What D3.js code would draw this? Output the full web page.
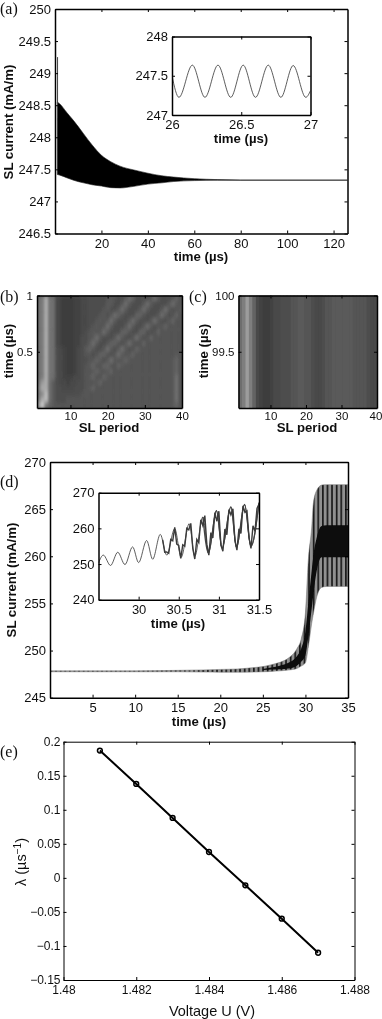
<!DOCTYPE html>
<meta charset="utf-8">
<style>
html, body { margin: 0; background: #fff; }
svg { display: block; }
text { font-family: "Liberation Sans", sans-serif; fill: #111; }
.frame path, .frame line { fill: none; stroke: #000; stroke-width: 1; shape-rendering: auto; }
.frame .domain { stroke-width: 1.5; }
.thin .domain { stroke-width: 1; }
.label { font-weight: bold; font-size: 13.2px; text-anchor: middle; }
.panel { font-family: "Liberation Serif", serif; font-size: 16px; }
</style>
<body>
<script src="https://cdn.jsdelivr.net/npm/d3@7/dist/d3.min.js"></script>
<script>

// (a) envelope of the fast oscillation
var aTime  = [1, 2.1, 5, 8, 12.2, 16, 20, 24, 28, 34, 40, 46, 51, 60, 70, 80, 100, 126];
var aUpper = [248.55, 248.52, 248.39, 248.26, 248.06, 247.88, 247.72, 247.62, 247.55, 247.49, 247.44, 247.40, 247.38, 247.355, 247.34, 247.335, 247.335, 247.335];
var aLower = [247.42, 247.41, 247.37, 247.33, 247.29, 247.26, 247.24, 247.215, 247.21, 247.235, 247.27, 247.29, 247.31, 247.325, 247.33, 247.33, 247.33, 247.33];
var aSpikeTime = [1.1, 1.1];
var aSpikeValue = [248.3, 249.25];

// (a) inset, turning points of the oscillation
var aInsetTime  = [26, 26.05, 26.147, 26.238, 26.332, 26.424, 26.514, 26.603, 26.695, 26.786, 26.875, 26.966, 27];
var aInsetValue = [247.5, 247.225, 247.635, 247.225, 247.635, 247.225, 247.635, 247.225, 247.635, 247.225, 247.63, 247.225, 247.31];

// (b) grey level per cell (hex digit), rows from t=1 down to t=0, columns SL period 1..40
var bRows = [
  "79c87 21000 11 22333 33454 33576 33335 75333 464",
  "79c87 21000 11 22333 33553 35753 33575 33335 754",
  "79c87 21000 11 22333 34533 57533 35753 33575 345",
  "79c87 21000 11 22333 45357 64333 66433 35753 464",
  "79c87 21000 11 22334 54575 33357 53335 75335 644",
  "79c87 21000 11 22345 45753 33575 33575 34564 444",
  "79c87 21000 11 23454 57533 36643 36633 46444 444",
  "79c87 21000 11 33457 53335 75335 75346 44444 444",
  "79c87 21000 11 33575 33466 43575 34644 44444 444",
  "79c87 32100 12 35653 35753 57534 65444 44444 444",
  "79c87 32100 12 34434 66435 75456 44444 44444 454",
  "79c87 32100 12 33456 53575 45654 44444 44444 564",
  "79c87 32100 12 34564 46644 65444 44444 44444 564",
  "79c87 32100 12 34456 54564 44444 44444 44444 564",
  "79c87 32111 22 34564 46544 44444 44444 44444 574",
  "8bc75 32212 23 34445 64444 44444 44444 44444 574",
  "9cc75 33222 33 34564 44444 44444 44444 44444 574",
  "8ad75 33333 33 45444 44444 44444 44444 44444 574",
  "9cd75 33344 44 44444 44444 44444 44444 44444 574",
  "be865 44444 44 44444 44444 44444 44444 44444 564"
];

// (c) same levels, the profile no longer changes in time
var cProfile = "79b96 21001 22 33344 55443 22344 55555 54444 322";

// (d) envelopes
var dTime  = [0, 10, 15, 18, 20, 22, 24, 25, 26, 27, 28, 29, 29.5, 30, 30.34, 30.74, 30.93, 31.33, 31.9, 32.5, 35];
var dUpper = [247.85, 247.85, 247.9, 247.95, 248, 248.05, 248.2, 248.3, 248.5, 248.75, 249.2, 250.2, 251.2, 254, 259.6, 263.1, 265.6, 267, 267.55, 267.6, 267.6];
var dLower = [247.75, 247.75, 247.75, 247.72, 247.7, 247.7, 247.72, 247.75, 247.78, 247.85, 247.93, 248.1, 248.35, 248.7, 250.4, 252.9, 253.9, 255.7, 256.7, 256.8, 256.8];
var dCoreTime  = [25, 26, 27, 28, 29, 29.5, 30, 30.34, 30.74, 31, 31.33, 31.9, 32.5, 35];
var dCoreUpper = [248.05, 248.2, 248.4, 248.7, 249.4, 250.2, 252, 255, 258.5, 260.5, 262, 263.2, 263.3, 263.3];
var dCoreLower = [247.95, 247.98, 248.02, 248.1, 248.4, 248.8, 249.5, 251.5, 254.5, 256.5, 258.5, 259.9, 259.9, 259.9];

// (d) inset, turning points of the slow swing
var dInsetTime  = [29.5, 29.56, 29.65, 29.74, 29.83, 29.925, 30, 30.1, 30.175, 30.27, 30.35, 30.45, 30.53, 30.63, 30.7, 30.8, 30.87, 30.97, 31.04, 31.15, 31.22, 31.32, 31.4, 31.5];
var dInsetValue = [250.3, 252.5, 249.6, 253.3, 249.85, 254.8, 250.4, 256.6, 251.35, 258.3, 252.5, 259.9, 251.9, 261.3, 252.2, 263.2, 253.1, 265, 254.5, 266, 254.7, 266.7, 255, 267.2];

// (d) inset, the ripple riding on it from about 30.3 on
var dRippleTime  = [30.3, 30.325, 30.35, 30.375, 30.4, 30.425, 30.45, 30.475, 30.5, 30.525, 30.55, 30.575, 30.6, 30.625, 30.65, 30.675, 30.7, 30.725, 30.75, 30.775, 30.8, 30.825, 30.85, 30.875, 30.9, 30.925, 30.95, 30.975, 31, 31.025, 31.05, 31.075, 31.1, 31.125, 31.15, 31.175, 31.2, 31.225, 31.25, 31.275, 31.3, 31.325, 31.35, 31.375, 31.4, 31.425, 31.45, 31.475, 31.5];
var dRippleValue = [256.8, 253.3, 253.4, 253, 256.9, 256.5, 260.3, 255.6, 255.2, 251.6, 255.4, 255, 260, 259.6, 261.4, 254.4, 251.4, 256.9, 256, 262.4, 260.8, 263.6, 255.5, 252.5, 258.8, 257.3, 264.4, 262, 264.8, 255.3, 253.6, 259.8, 258.2, 265.3, 263.8, 265.5, 256.6, 253.9, 259.9, 258.6, 266.3, 264.5, 264.9, 257.4, 254.4, 260.7, 259.2, 265.6, 266.8];

// (e)
var eVoltage = [1.481, 1.482, 1.483, 1.484, 1.485, 1.486, 1.487];
var eLambda  = [0.187, 0.138, 0.088, 0.038, -0.011, -0.06, -0.11];
var eXTicks = [1.48, 1.482, 1.484, 1.486, 1.488];
var eYTicks = [-0.15, -0.1, -0.05, 0, 0.05, 0.1, 0.15, 0.2];

var greys = ["#3c3c3c", "#424242", "#484848", "#4e4e4e", "#545454", "#5a5a5a", "#646464", "#6e6e6e",
             "#747474", "#7e7e7e", "#8c8c8c", "#9c9c9c", "#acacac", "#bcbcbc", "#cccccc", "#dcdcdc"];

var svg = d3.select("body").append("svg")
    .attr("width", 382)
    .attr("height", 1019)
    .style("filter", "url(#soft)");

var defs = svg.append("defs");
defs.append("filter").attr("id", "soft").attr("x", 0).attr("y", 0).attr("width", 1).attr("height", 1)
    .append("feGaussianBlur").attr("stdDeviation", 0.35);
defs.append("filter").attr("id", "cellblur")
    .append("feGaussianBlur").attr("stdDeviation", "0.8 1.9");
defs.append("filter").attr("id", "cellblur2")
    .append("feGaussianBlur").attr("stdDeviation", 0.5);
var stripes = defs.append("pattern").attr("id", "stripes")
    .attr("patternUnits", "userSpaceOnUse").attr("width", 4.6).attr("height", 10);
stripes.append("rect").attr("width", 4.6).attr("height", 10).attr("fill", "#909090");
stripes.append("rect").attr("width", 1.7).attr("height", 10).attr("fill", "#1a1a1a");

svg.append("rect").attr("width", 382).attr("height", 1019).attr("fill", "#fff");

var clipCount = 0;

function frame(box, xDomain, yDomain, xTicks, yTicks, fontSize, thin, fmtY) {
  var x = d3.scaleLinear().domain(xDomain).range([box.left, box.right]);
  var y = d3.scaleLinear().domain(yDomain).range([box.bottom, box.top]);
  var id = "clip" + (clipCount++);
  svg.append("clipPath").attr("id", id).append("rect")
      .attr("x", box.left).attr("y", box.top)
      .attr("width", box.right - box.left).attr("height", box.bottom - box.top);
  var plot = svg.append("g").attr("clip-path", "url(#" + id + ")");

  var axes = svg.append("g").attr("class", thin ? "frame thin" : "frame");
  var fmt = fmtY || String;
  axes.append("g").attr("class", "bottom").attr("transform", "translate(0," + box.bottom + ")")
      .call(d3.axisBottom(x).tickValues(xTicks).tickSizeInner(-3).tickSizeOuter(0).tickPadding(box.padX || 5).tickFormat(String));
  axes.append("g").attr("transform", "translate(" + box.left + ",0)")
      .call(d3.axisLeft(y).tickValues(yTicks).tickSizeInner(-3).tickSizeOuter(0).tickPadding(box.padY || 4).tickFormat(fmt));
  axes.append("g").attr("transform", "translate(0," + box.top + ")")
      .call(d3.axisTop(x).tickValues(xTicks).tickSizeInner(-3).tickSizeOuter(0).tickFormat(""));
  axes.append("g").attr("transform", "translate(" + box.right + ",0)")
      .call(d3.axisRight(y).tickValues(yTicks).tickSizeInner(-3).tickSizeOuter(0).tickFormat(""));
  axes.selectAll("text").style("font-family", '"Liberation Sans", sans-serif')
      .style("font-size", fontSize + "px").style("fill", "#111");
  return {x: x, y: y, plot: plot, axes: axes};
}

function xLabel(text, cx, base) {
  svg.append("text").attr("class", "label").attr("x", cx).attr("y", base).text(text);
}
function yLabel(text, cx, cy) {
  svg.append("text").attr("class", "label")
      .attr("transform", "translate(" + cx + "," + cy + ") rotate(-90)").text(text);
}
function panelTag(text, px, py) {
  svg.append("text").attr("class", "panel").attr("x", px).attr("y", py).text(text);
}

function band(chart, times, upper, lower, fill) {
  var area = d3.area()
      .x(function(d, i) { return chart.x(times[i]); })
      .y0(function(d, i) { return chart.y(lower[i]); })
      .y1(function(d, i) { return chart.y(upper[i]); })
      .curve(d3.curveMonotoneX);
  return chart.plot.append("path").attr("d", area(times)).attr("fill", fill);
}

function trace(chart, times, values, width, colour, curve) {
  var line = d3.line()
      .x(function(d, i) { return chart.x(times[i]); })
      .y(function(d, i) { return chart.y(values[i]); })
      .curve(curve || d3.curveMonotoneX);
  return chart.plot.append("path").attr("d", line(times))
      .attr("fill", "none").attr("stroke", colour).attr("stroke-width", width);
}

// ---- panel a
var a = frame({left: 55, right: 347.5, top: 9, bottom: 233.5}, [0, 126], [246.5, 250],
    [20, 40, 60, 80, 100, 120], [246.5, 247, 247.5, 248, 248.5, 249, 249.5, 250], 13);
band(a, aTime, aUpper, aLower, "#000").attr("stroke", "#222").attr("stroke-width", 0.6);
trace(a, aSpikeTime, aSpikeValue, 1, "#444");
xLabel("time (µs)", 201, 261);
yLabel("SL current (mA/m)", 13, 122);
panelTag("(a)", 0, 14);

var aIn = frame({left: 172, right: 310.5, top: 36.5, bottom: 115}, [26, 27], [247, 248],
    [26, 26.5, 27], [247, 247.5, 248], 13);
trace(aIn, aInsetTime, aInsetValue, 0.8, "#333");
xLabel("time (µs)", 241, 143);

// ---- panels b, c
var cols = d3.range(1, 41);

function heat(box, rows, yDomain, yTicks, blur) {
  var chart = frame(box, [1, 40], yDomain, [10, 20, 30, 40], yTicks, 11.5, false);
  var colScale = d3.scaleBand().domain(cols).range([box.left, box.right]);
  var rowScale = d3.scaleBand().domain(d3.range(rows.length)).range([box.top, box.bottom]);
  var shade = d3.scaleOrdinal().domain(d3.range(16)).range(greys);
  chart.plot.append("rect").attr("x", box.left).attr("y", box.top)
      .attr("width", box.right - box.left).attr("height", box.bottom - box.top).attr("fill", "#505050");
  var cells = chart.plot.append("g").attr("filter", "url(#" + blur + ")");
  rows.forEach(function(row, r) {
    var levels = row.replace(/ /g, "").split("");
    cells.selectAll(null).data(levels).enter().append("rect")
        .attr("x", function(d, i) { return colScale(cols[i]); })
        .attr("y", rowScale(r))
        .attr("width", colScale.bandwidth() + 0.5)
        .attr("height", rowScale.bandwidth() + 0.5)
        .attr("fill", function(d) { return shade(parseInt(d, 16)); });
  });
  // frame goes on top of the cells
  svg.node().appendChild(chart.axes.node());
  return chart;
}

heat({left: 37, right: 182, top: 295.5, bottom: 408, padX: 4}, bRows, [0, 1], [0.5, 1], "cellblur");
xLabel("SL period", 109, 432);
yLabel("time (µs)", 13, 351);
panelTag("(b)", 0, 302);

var cChart = heat({left: 238.5, right: 377, top: 295.5, bottom: 408, padX: 4}, [cProfile], [99, 100], [99.5, 100], "cellblur2");
// last label sits right at the page edge
cChart.axes.select(".bottom").selectAll(".tick:last-of-type text").attr("dx", -1.5);
xLabel("SL period", 307, 432);
yLabel("time (µs)", 208, 351);
panelTag("(c)", 189, 302);

// ---- panel d
var dd = frame({left: 50, right: 348, top: 462, bottom: 697.7}, [0, 35], [245, 270],
    [5, 10, 15, 20, 25, 30, 35], [245, 250, 255, 260, 265, 270], 13);
band(dd, dTime, dUpper, dLower, "url(#stripes)").attr("stroke", "#777").attr("stroke-width", 0.5);
band(dd, dCoreTime, dCoreUpper, dCoreLower, "#0a0a0a");
svg.node().appendChild(dd.axes.node());
xLabel("time (µs)", 199, 726);
yLabel("SL current (mA/m)", 16, 580);
panelTag("(d)", 0, 487);

var dIn = frame({left: 98.5, right: 259, top: 492.7, bottom: 599.7}, [29.5, 31.5], [240, 270],
    [30, 30.5, 31, 31.5], [240, 250, 260, 270], 13);
trace(dIn, dInsetTime, dInsetValue, 0.8, "#333");
trace(dIn, dInsetTime.slice(15), dInsetValue.slice(15), 1.3, "#444");
trace(dIn, dRippleTime, dRippleValue, 1.4, "#3a3a3a", d3.curveLinear);
xLabel("time (µs)", 178, 628);

// ---- panel e
function signed(d) { return String(d).replace("-", "\u2212"); }
var e = frame({left: 63.5, right: 354.5, top: 741.7, bottom: 980, padX: 5, padY: 3}, [1.48, 1.488], [-0.15, 0.2],
    eXTicks, eYTicks, 12, true, signed);
var eLine = d3.line()
    .x(function(d, i) { return e.x(eVoltage[i]); })
    .y(function(d) { return e.y(d); });
e.plot.append("path").attr("d", eLine(eLambda))
    .attr("fill", "none").attr("stroke", "#000").attr("stroke-width", 2);
e.plot.selectAll("circle").data(eLambda).enter().append("circle")
    .attr("cx", function(d, i) { return e.x(eVoltage[i]); })
    .attr("cy", function(d) { return e.y(d); })
    .attr("r", 2.4)
    .attr("fill", "none").attr("stroke", "#000").attr("stroke-width", 1.5);
svg.append("text").attr("x", 212).attr("y", 1016).attr("text-anchor", "middle")
    .style("font-size", "14.5px").text("Voltage U (V)");
var eY = svg.append("text").attr("text-anchor", "middle")
    .attr("transform", "translate(26,862) rotate(-90)").style("font-size", "14.5px");
eY.append("tspan").text("λ (µs");
eY.append("tspan").attr("dy", -5).style("font-size", "10px").text("\u22121");
eY.append("tspan").attr("dy", 5).text(")");
panelTag("(e)", 0, 757);

</script>
</body>
